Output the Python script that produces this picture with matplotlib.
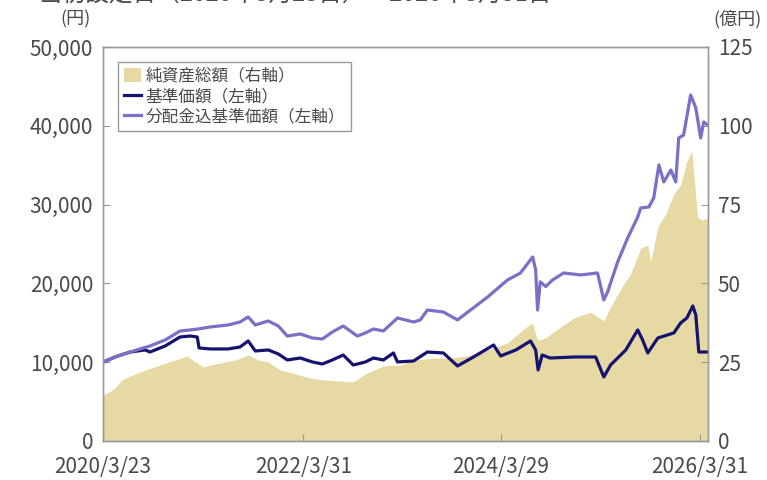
import matplotlib.pyplot as plt
from matplotlib.patches import Patch
from matplotlib.lines import Line2D
import pandas as pd

plt.rcParams['font.family'] = ['Noto Sans CJK JP', 'DejaVu Sans']

# 分配金込基準価額 (円)
cum_dates = ['2020-03-23', '2020-05-06', '2020-07-01', '2020-09-12', '2020-11-07',
             '2021-01-01', '2021-02-07', '2021-03-08', '2021-04-22', '2021-06-27',
             '2021-08-10', '2021-09-09', '2021-10-05', '2021-11-22', '2021-12-29',
             '2022-01-31', '2022-03-20', '2022-05-03', '2022-06-09', '2022-07-16',
             '2022-08-25', '2022-10-16', '2022-11-15', '2022-12-14', '2023-01-20',
             '2023-03-13', '2023-05-11', '2023-06-05', '2023-07-01', '2023-08-29',
             '2023-10-20', '2023-12-07', '2024-02-08', '2024-04-21', '2024-06-08',
             '2024-07-23', '2024-08-03', '2024-08-10', '2024-08-20', '2024-09-09',
             '2024-10-04', '2024-11-14', '2025-01-16', '2025-03-19', '2025-04-11',
             '2025-04-25', '2025-06-01', '2025-07-08', '2025-08-14', '2025-08-25',
             '2025-09-24', '2025-10-12', '2025-10-31', '2025-11-18', '2025-12-14',
             '2026-01-01', '2026-01-12', '2026-01-30', '2026-02-14', '2026-02-25',
             '2026-03-16', '2026-04-03', '2026-04-14', '2026-04-29']
cum_values = [10000, 10660, 11290, 12060, 12820,
              13960, 14090, 14210, 14470, 14720,
              15100, 15740, 14720, 15230, 14590,
              13320, 13580, 13070, 12940, 13830,
              14590, 13320, 13710, 14210, 13960,
              15610, 15100, 15360, 16620, 16370,
              15360, 16620, 18270, 20430, 21320,
              23350, 21700, 16620, 20200, 19600,
              20430, 21320, 21070, 21320, 17890,
              18910, 22720, 25760, 28430, 29570,
              29700, 30840, 35030, 32870, 34390,
              32870, 38450, 38830, 41750, 43910,
              42260, 38450, 40480, 40100]

# 基準価額 (円)
nav_dates = ['2020-03-23', '2020-05-06', '2020-07-01', '2020-08-25', '2020-09-12',
             '2020-11-07', '2021-01-01', '2021-02-07', '2021-03-05', '2021-03-12',
             '2021-04-22', '2021-06-27', '2021-08-10', '2021-09-09', '2021-10-05',
             '2021-11-22', '2021-12-29', '2022-01-31', '2022-03-20', '2022-05-03',
             '2022-06-09', '2022-07-16', '2022-08-25', '2022-10-01', '2022-11-15',
             '2022-12-14', '2023-01-20', '2023-02-26', '2023-03-13', '2023-05-11',
             '2023-07-01', '2023-08-29', '2023-10-20', '2023-12-18', '2024-03-01',
             '2024-03-27', '2024-05-22', '2024-07-15', '2024-08-03', '2024-08-12',
             '2024-08-27', '2024-09-25', '2024-12-25', '2025-03-12', '2025-04-11',
             '2025-05-06', '2025-07-01', '2025-08-14', '2025-09-01', '2025-09-20',
             '2025-10-27', '2025-12-25', '2026-01-19', '2026-02-11', '2026-03-05',
             '2026-03-16', '2026-03-27', '2026-04-29']
nav_values = [10000, 10660, 11290, 11550, 11290,
              12060, 13200, 13320, 13200, 11800,
              11680, 11680, 11930, 12690, 11420,
              11550, 11040, 10280, 10530, 10030,
              9770, 10280, 10910, 9640, 10030,
              10530, 10280, 11170, 10030, 10150,
              11290, 11170, 9520, 10660, 12180,
              10790, 11550, 12690, 11550, 9010,
              10910, 10530, 10660, 10660, 8120,
              9640, 11550, 14090, 12820, 11170,
              13070, 13710, 14970, 15610, 17130,
              15990, 11290, 11290]

# 純資産総額 (億円)
aum_dates = ['2020-03-23', '2020-04-14', '2020-05-06', '2020-06-01', '2020-07-01',
             '2020-08-25', '2020-10-19', '2020-12-14', '2021-01-27', '2021-02-25',
             '2021-03-27', '2021-05-10', '2021-07-23', '2021-09-09', '2021-10-16',
             '2021-11-22', '2022-01-05', '2022-03-01', '2022-04-26', '2022-06-13',
             '2022-08-14', '2022-10-01', '2022-11-15', '2023-01-20', '2023-03-24',
             '2023-05-18', '2023-07-23', '2023-09-24', '2023-11-26', '2024-02-08',
             '2024-04-21', '2024-06-30', '2024-07-21', '2024-08-10', '2024-09-09',
             '2024-11-03', '2024-12-21', '2025-02-22', '2025-04-11', '2025-05-06',
             '2025-06-21', '2025-07-19', '2025-08-25', '2025-09-20', '2025-10-01',
             '2025-10-27', '2025-11-25', '2025-12-25', '2026-01-19', '2026-02-11',
             '2026-03-01', '2026-03-23', '2026-04-11', '2026-04-29']
aum_values = [14.6, 15.5, 16.8, 19.4, 20.6,
              22.5, 24.1, 25.7, 27.0, 25.1,
              23.5, 24.4, 25.7, 27.3, 25.7,
              25.1, 22.5, 21.3, 20.0, 19.4,
              19.0, 18.7, 21.3, 23.8, 24.1,
              25.7, 26.3, 26.3, 27.0, 28.9,
              31.1, 36.2, 37.4, 32.0, 32.7,
              36.2, 39.0, 40.9, 38.1, 42.5,
              49.5, 53.0, 61.2, 62.2, 56.8,
              67.9, 72.0, 78.4, 81.2, 88.8,
              92.0, 70.8, 70.1, 70.8]

tick_dates = ['2020-03-23', '2022-03-31', '2024-03-29', '2026-03-31']
tick_labels = ['2020/3/23', '2022/3/31', '2024/3/29', '2026/3/31']

fill_color = '#e6d9a3'
nav_color = '#141470'
cum_color = '#7a70c6'
spine_color = '#9a9a9a'
text_color = '#4a4a4a'

fig = plt.figure(figsize=(7.67, 4.8), dpi=100)
ax = fig.add_axes([0.1343, 0.0813, 0.7888, 0.8208])
ax2 = ax.twinx()

ax2.fill_between(pd.to_datetime(aum_dates), aum_values, 0, color=fill_color, lw=0)
ax.plot(pd.to_datetime(nav_dates), nav_values, color=nav_color, lw=2.3)
ax.plot(pd.to_datetime(cum_dates), cum_values, color=cum_color, lw=2.3)

ax.set_zorder(ax2.get_zorder() + 1)
ax.patch.set_visible(False)

ax.set_xlim(pd.Timestamp('2020-03-23'), pd.Timestamp('2026-04-30'))
ax.set_ylim(0, 50000)
ax2.set_ylim(0, 125)
ax.set_yticks([0, 10000, 20000, 30000, 40000, 50000])
ax.set_yticklabels(['0', '10,000', '20,000', '30,000', '40,000', '50,000'])
ax2.set_yticks([0, 25, 50, 75, 100, 125])
ax.set_xticks(pd.to_datetime(tick_dates))
ax.set_xticklabels(tick_labels)

for a in (ax, ax2):
    for s in a.spines.values():
        s.set_color(spine_color)
        s.set_linewidth(1.0)
    a.tick_params(direction='in', length=5, color=spine_color,
                  labelsize=15, labelcolor=text_color)
ax.tick_params(axis='y', pad=7)
ax2.tick_params(axis='y', pad=7)
ax.tick_params(axis='x', pad=11)

fig.text(0.099, 0.960, '(円)', ha='center', va='center', fontsize=13, color=text_color)
fig.text(0.961, 0.960, '(億円)', ha='center', va='center', fontsize=13, color=text_color)
fig.text(0.05, 1.012, '当初設定日（2020年3月23日）～2026年3月31日', ha='left', va='center',
         fontsize=17, color=text_color)

handles = [Patch(facecolor=fill_color, edgecolor='none'),
           Line2D([], [], color=nav_color, lw=2.3),
           Line2D([], [], color=cum_color, lw=2.3)]
labels = ['純資産総額（右軸）', '基準価額（左軸）', '分配金込基準価額（左軸）']
leg = ax.legend(handles, labels, loc='upper left', bbox_to_anchor=(0.025, 0.962),
                borderaxespad=0, fontsize=12, handlelength=1.0, handleheight=0.9,
                handletextpad=0.3, labelspacing=0.2, fancybox=False,
                edgecolor=spine_color, framealpha=1, borderpad=0.35)
leg.get_frame().set_linewidth(1.0)
for t in leg.get_texts():
    t.set_color(text_color)

fig.savefig('out.png', dpi=100)
